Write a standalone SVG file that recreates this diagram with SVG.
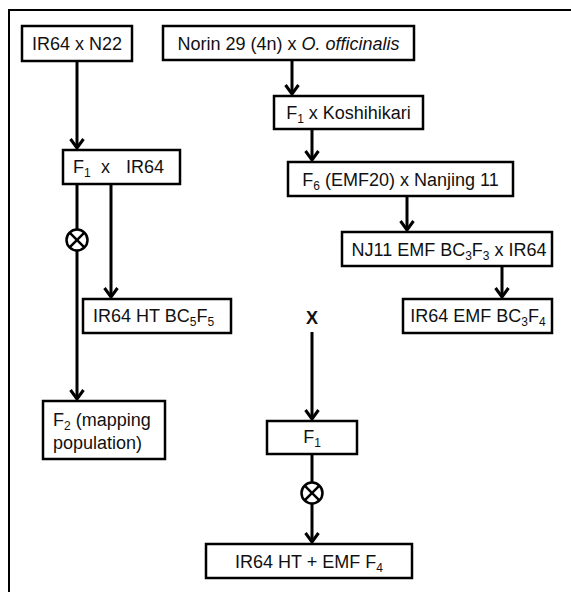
<svg xmlns="http://www.w3.org/2000/svg" width="571" height="592" viewBox="0 0 571 592">
<style>
.box{fill:#fff;stroke:#000;stroke-width:2.5}
.t{font-family:"Liberation Sans",Arial,sans-serif;font-size:18px;fill:#111}
.s{font-size:12px}
.c{text-anchor:middle}
.ln{stroke:#000;stroke-width:3;fill:none}
.ox{fill:#fff;stroke:#000;stroke-width:2.5}
.oxl{stroke:#000;stroke-width:2.5}
</style>
<defs>
<marker id="ah" markerUnits="userSpaceOnUse" viewBox="-12 -8 14 16" markerWidth="14" markerHeight="16" refX="0" refY="0" orient="auto">
<path d="M-9,-6.5 L0,0 L-9,6.5" fill="none" stroke="#000" stroke-width="3" stroke-linejoin="miter"/>
</marker>
</defs>
<rect x="9" y="10" width="600" height="600" fill="none" stroke="#000" stroke-width="2"/>
<g id="connectors">
<line class="ln" x1="77" y1="61" x2="77" y2="148" marker-end="url(#ah)"/>
<line class="ln" x1="77" y1="184" x2="77" y2="399" marker-end="url(#ah)"/>
<line class="ln" x1="111" y1="184" x2="111" y2="297" marker-end="url(#ah)"/>
<line class="ln" x1="292" y1="60" x2="292" y2="94" marker-end="url(#ah)"/>
<line class="ln" x1="312" y1="129" x2="312" y2="160" marker-end="url(#ah)"/>
<line class="ln" x1="407" y1="196" x2="407" y2="230" marker-end="url(#ah)"/>
<line class="ln" x1="502" y1="266" x2="502" y2="297" marker-end="url(#ah)"/>
<line class="ln" x1="312" y1="332" x2="312" y2="419" marker-end="url(#ah)"/>
<line class="ln" x1="312" y1="454" x2="312" y2="542" marker-end="url(#ah)"/>
<g id="self1">
<circle class="ox" cx="77" cy="240" r="10.5"/>
<line class="oxl" x1="69.6" y1="232.6" x2="84.4" y2="247.4"/>
<line class="oxl" x1="84.4" y1="232.6" x2="69.6" y2="247.4"/>
</g>
<g id="self2">
<circle class="ox" cx="312" cy="493" r="10.5"/>
<line class="oxl" x1="304.6" y1="485.6" x2="319.4" y2="500.4"/>
<line class="oxl" x1="319.4" y1="485.6" x2="304.6" y2="500.4"/>
</g>
</g>
<g id="n_ir64xn22">
<rect class="box" x="22" y="26" width="110" height="35"/>
<text class="t c" x="77" y="49.5">IR64 x N22</text>
</g>
<g id="n_norin">
<rect class="box" x="163" y="26" width="251" height="34"/>
<text class="t c" x="288.5" y="49.5">Norin 29 (4n) x <tspan font-style="italic">O. officinalis</tspan></text>
</g>
<g id="n_f1kosh">
<rect class="box" x="274" y="96" width="149" height="33"/>
<text class="t c" x="348.5" y="119">F<tspan class="s" dy="4">1</tspan><tspan dy="-4"> x Koshihikari</tspan></text>
</g>
<g id="n_f1ir64">
<rect class="box" x="63" y="150" width="117" height="34"/>
<text class="t" y="173"><tspan x="73">F</tspan><tspan class="s" dy="4">1</tspan><tspan x="101" dy="-4">x</tspan><tspan x="126">IR64</tspan></text>
</g>
<g id="n_f6">
<rect class="box" x="288" y="162" width="225" height="34"/>
<text class="t c" x="400.5" y="185.5">F<tspan class="s" dy="4">6</tspan><tspan dy="-4"> (EMF20) x Nanjing 11</tspan></text>
</g>
<g id="n_nj11">
<rect class="box" x="342" y="232" width="210" height="34"/>
<text class="t c" x="449" y="255.5">NJ11 EMF BC<tspan class="s" dy="4">3</tspan><tspan dy="-4">F</tspan><tspan class="s" dy="4">3</tspan><tspan dy="-4"> x IR64</tspan></text>
</g>
<g id="n_ir64emf">
<rect class="box" x="403" y="299" width="149" height="34"/>
<text class="t c" x="478" y="322" font-size="17">IR64 EMF BC<tspan class="s" dy="4">3</tspan><tspan dy="-4">F</tspan><tspan class="s" dy="4">4</tspan></text>
</g>
<g id="n_ir64ht">
<rect class="box" x="83" y="299" width="148" height="34"/>
<text class="t" x="93" y="322">IR64 HT BC<tspan class="s" dy="4">5</tspan><tspan dy="-4">F</tspan><tspan class="s" dy="4">5</tspan></text>
</g>
<g id="n_f2">
<rect class="box" x="43" y="401" width="122" height="58"/>
<text class="t" x="53" y="426">F<tspan class="s" dy="4">2</tspan><tspan dy="-4"> (mapping</tspan></text>
<text class="t" x="53" y="449">population)</text>
</g>
<g id="n_x">
<text class="t c" x="312" y="324" font-weight="bold" font-size="21">X</text>
</g>
<g id="n_f1b">
<rect class="box" x="267" y="421" width="90" height="33"/>
<text class="t c" x="312" y="443">F<tspan class="s" dy="4">1</tspan></text>
</g>
<g id="n_final">
<rect class="box" x="206" y="544" width="206" height="34"/>
<text class="t c" x="309" y="567.5">IR64 HT + EMF F<tspan class="s" dy="4">4</tspan></text>
</g>
</svg>
